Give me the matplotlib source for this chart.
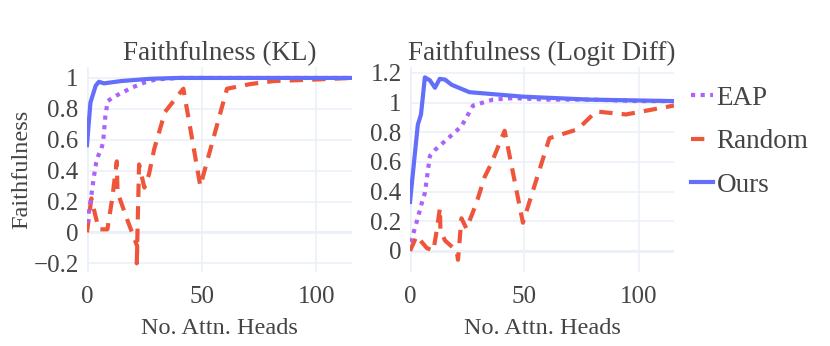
import matplotlib
matplotlib.use("Agg")

import matplotlib.pyplot as plt
from matplotlib.lines import Line2D

plt.rcParams["font.family"] = ["Liberation Serif", "DejaVu Serif"]

# ---------------- data ----------------
# Faithfulness (KL)
kl_eap_x = [0, 1, 2, 3, 4, 5, 6, 7, 8, 9, 12, 16, 20, 25, 30, 40, 60, 80, 100, 115.5]
kl_eap_y = [0.06, 0.15, 0.25, 0.36, 0.45, 0.50, 0.53, 0.58, 0.75, 0.85, 0.88, 0.91, 0.94, 0.97,
            0.99, 1.0, 1.0, 1.0, 1.0, 1.0]

kl_rand_x = [0, 1.9, 3.8, 5.2, 8.9, 11, 13, 13.3, 17.6, 21.9, 21.7, 22.7, 25, 27, 29.3, 34, 42,
             49.4, 61, 71, 81.5, 100, 115.5]
kl_rand_y = [0.0, 0.22, 0.10, 0.02, 0.02, 0.22, 0.46, 0.26, 0.08, -0.09, -0.20, 0.44, 0.29,
             0.375, 0.54, 0.78, 0.93, 0.30, 0.93, 0.96, 0.98, 0.99, 1.0]

kl_ours_x = [0, 1.5, 3.8, 5.2, 7.4, 15, 28, 40, 60, 80, 100, 115.5]
kl_ours_y = [0.565, 0.84, 0.95, 0.975, 0.965, 0.98, 0.995, 1.0, 1.0, 1.0, 1.0, 1.0]

# Faithfulness (Logit Diff)
ld_eap_x = [0, 1.5, 3, 5.1, 6.5, 8.7, 10.9, 16, 22.5, 27.6, 36.3, 45, 60, 80, 100, 115.5]
ld_eap_y = [0.06, 0.12, 0.20, 0.32, 0.39, 0.64, 0.68, 0.75, 0.84, 0.98, 1.02, 1.03, 1.02,
            1.02, 1.01, 1.01]

ld_rand_x = [0, 2.9, 7.3, 10.2, 11.6, 13.1, 13.3, 15.3, 20.4, 21, 22.5, 24.7, 29, 32.7, 35.6,
             41.4, 49.4, 61, 73.4, 81.4, 94.5, 115.5]
ld_rand_y = [0.0, 0.10, 0.02, 0.0, 0.13, 0.29, 0.14, 0.07, 0.0, -0.06, 0.22, 0.15, 0.32, 0.50,
             0.59, 0.81, 0.19, 0.76, 0.82, 0.94, 0.92, 0.98]

ld_ours_x = [0, 3.4, 4.8, 6.5, 8.7, 10.9, 13, 15.3, 18.2, 26, 49.4, 78.5, 115.5]
ld_ours_y = [0.33, 0.85, 0.92, 1.17, 1.15, 1.10, 1.16, 1.155, 1.12, 1.07, 1.04, 1.02, 1.01]

kl_yticks = [-0.2, 0, 0.2, 0.4, 0.6, 0.8, 1]
ld_yticks = [0, 0.2, 0.4, 0.6, 0.8, 1, 1.2]
xticks = [0, 50, 100]

C_EAP = "#AB63FA"
C_RAND = "#EF553B"
C_OURS = "#636EFA"
GRID = "#EBF0F8"
TXT = "#444444"


def fmt(v):
    if v == 0:
        return "0"
    s = f"{v:g}"
    return s.replace("-", "\u2212")


fig = plt.figure(figsize=(8.3, 3.46), dpi=100)
ax1 = fig.add_axes([0.1048, 0.214, 0.3193, 0.592])
ax2 = fig.add_axes([0.494, 0.214, 0.318, 0.592])

panels = [
    (ax1, "Faithfulness (KL)", kl_eap_x, kl_eap_y, kl_rand_x, kl_rand_y,
     kl_ours_x, kl_ours_y, kl_yticks, (-0.256, 1.07)),
    (ax2, "Faithfulness (Logit Diff)", ld_eap_x, ld_eap_y, ld_rand_x, ld_rand_y,
     ld_ours_x, ld_ours_y, ld_yticks, (-0.142, 1.239)),
]

for ax, title, ex, ey, rx, ry, ox, oy, yt, ylim in panels:
    ax.plot(rx, ry, color=C_RAND, lw=3, dashes=(3.2, 2.2), dash_capstyle="butt", zorder=3)
    ax.plot(ex, ey, color=C_EAP, lw=3, dashes=(1, 1.3), dash_capstyle="butt", zorder=4)
    ax.plot(ox, oy, color=C_OURS, lw=3, solid_joinstyle="round", zorder=5)

    ax.set_xlim(0, 115.5)
    ax.set_ylim(*ylim)
    ax.set_xticks(xticks)
    ax.set_yticks(yt)
    ax.set_xticklabels([fmt(v) for v in xticks])
    ax.set_yticklabels([fmt(v) for v in yt])
    ax.tick_params(length=0, labelsize=18, labelcolor=TXT)
    ax.tick_params(axis="x", pad=10)
    ax.tick_params(axis="y", pad=6)
    ax.grid(True, color=GRID, lw=1.2)
    ax.axhline(0, color=GRID, lw=2, zorder=1)
    ax.axvline(0, color=GRID, lw=2, zorder=1)
    ax.set_axisbelow(True)
    for s in ax.spines.values():
        s.set_visible(False)
    ax.set_title(title, fontsize=19.5, color=TXT, pad=5)
    ax.set_xlabel("No. Attn. Heads", fontsize=17.5, color=TXT, labelpad=7)

ax1.set_ylabel("Faithfulness", fontsize=17.5, color=TXT, labelpad=1)

handles = [
    Line2D([], [], color=C_EAP, lw=3, dashes=(1, 1.3), dash_capstyle="butt"),
    Line2D([], [], color=C_RAND, lw=3, dashes=(3.2, 2.2), dash_capstyle="butt"),
    Line2D([], [], color=C_OURS, lw=3),
]
fig.legend(handles, ["EAP", "Random", "Ours"], loc="upper left",
           bbox_to_anchor=(0.803, 0.822), frameon=False, fontsize=19.5,
           labelcolor=TXT, handlelength=0.8, handletextpad=0.15, labelspacing=0.68)

fig.savefig("out.png", dpi=100)
